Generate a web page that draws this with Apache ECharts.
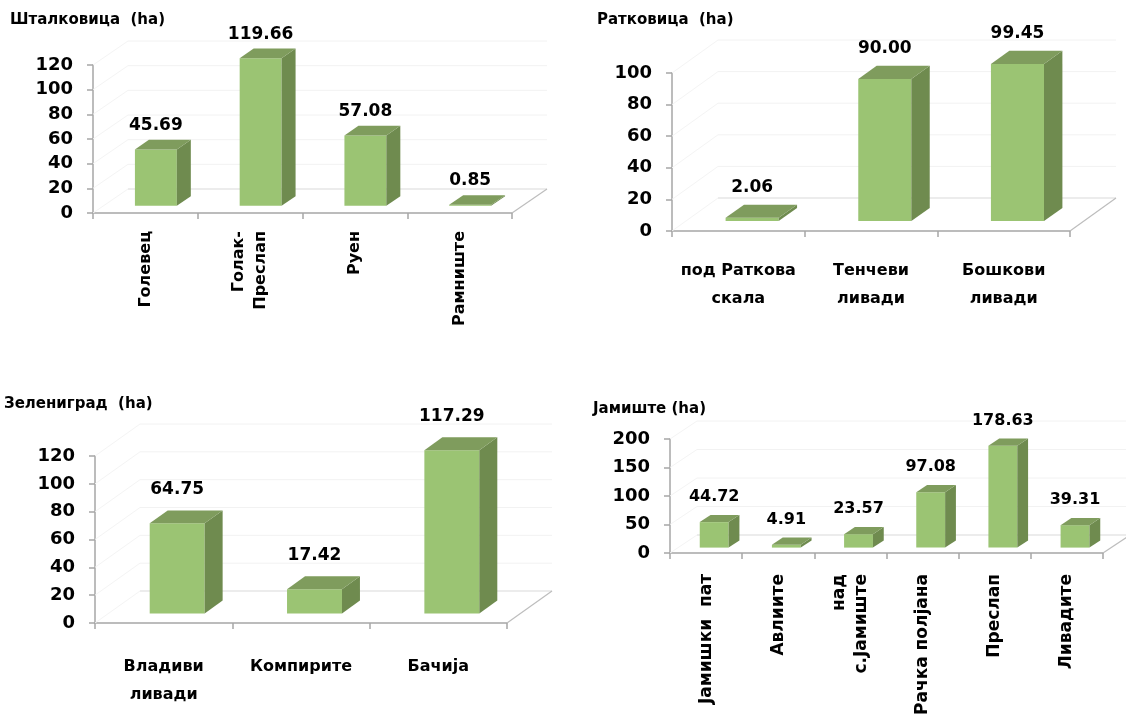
<!DOCTYPE html>
<html>
<head>
<meta charset="utf-8">
<script src="https://cdn.jsdelivr.net/npm/echarts@6/dist/echarts.min.js"></script>
<style>
  html, body { margin: 0; padding: 0; background: #fff; }
  #main { width: 1126px; height: 724px; }
</style>
</head>
<body>
<div id="main"></div>
<script>
// Шталковица
var stalkovicaCats = ['Голевец', 'Голак-\nПреслап', 'Руен', 'Рамниште'];
var stalkovicaVals = [45.69, 119.66, 57.08, 0.85];
var stalkovicaTicks = [0, 20, 40, 60, 80, 100, 120];
// Ратковица
var ratkovicaCats = ['под Раткова\nскала', 'Тенчеви\nливади', 'Бошкови\nливади'];
var ratkovicaVals = [2.06, 90.00, 99.45];
var ratkovicaTicks = [0, 20, 40, 60, 80, 100];
// Зелениград
var zelenigradCats = ['Владиви\nливади', 'Компирите', 'Бачија'];
var zelenigradVals = [64.75, 17.42, 117.29];
var zelenigradTicks = [0, 20, 40, 60, 80, 100, 120];
// Јамиште
var jamisteCats = ['Јамишки  пат', 'Авлиите', 'над\nс.Јамиште', 'Рачка полјана', 'Преслап', 'Ливадите'];
var jamisteVals = [44.72, 4.91, 23.57, 97.08, 178.63, 39.31];
var jamisteTicks = [0, 50, 100, 150, 200];

var FONT = 'DejaVu Sans';

// izgled na sekoj panel (pozicija, dlabocina na 3D, fontovi)
var panels = [
  { title: 'Шталковица  (ha)', tl: 10, tt: 13, cats: stalkovicaCats, vals: stalkovicaVals, ticks: stalkovicaTicks,
    grid: { left: 93, top: 65, width: 419, height: 148 }, depth: [35, -24], rotate: 90, catMargin: 18, catSize: 16, valSize: 17, gap: 6 },
  { title: 'Ратковица  (ha)', tl: 597, tt: 13, cats: ratkovicaCats, vals: ratkovicaVals, ticks: ratkovicaTicks,
    grid: { left: 672, top: 73, width: 398, height: 158 }, depth: [46, -33], rotate: 0, catMargin: 26, catSize: 16, valSize: 17, gap: 9 },
  { title: 'Зелениград  (ha)', tl: 4, tt: 397, cats: zelenigradCats, vals: zelenigradVals, ticks: zelenigradTicks,
    grid: { left: 95, top: 456, width: 412, height: 167 }, depth: [45, -32], rotate: 0, catMargin: 30, catSize: 16, valSize: 17, gap: 12 },
  { title: 'Јамиште (ha)', tl: 593, tt: 402, cats: jamisteCats, vals: jamisteVals, ticks: jamisteTicks,
    grid: { left: 670, top: 439, width: 433, height: 114 }, depth: [27, -18], rotate: 90, catMargin: 21, catSize: 17, valSize: 16, gap: 10 }
];

//3D kutija za sekoja vrednost
function boxRenderer(p) {
  return function (params, api) {
    var idx = api.value(0), val = api.value(1);
    var base = api.coord([idx, 0]);
    var top = api.coord([idx, val]);
    var bw = api.size([1, 0])[0] * 0.4;
    var ox = p.depth[0] * 0.3, oy = p.depth[1] * 0.3;
    var bx = p.depth[0] * 0.4, by = p.depth[1] * 0.4;
    var x0 = base[0] - bw / 2 + ox, x1 = x0 + bw;
    var yb = base[1] + oy, yt = top[1] + oy;
    return {
      type: 'group',
      children: [
        { type: 'rect', shape: { x: x0, y: yt, width: bw, height: yb - yt }, style: { fill: '#9bc473' } },
        { type: 'polygon', shape: { points: [[x1, yt], [x1 + bx, yt + by], [x1 + bx, yb + by], [x1, yb]] }, style: { fill: '#6f8b4f' } },
        { type: 'polygon', shape: { points: [[x0, yt], [x1, yt], [x1 + bx, yt + by], [x0 + bx, yt + by]] }, style: { fill: '#7f9c5d' } },
        { type: 'text', x: base[0] + ox, y: yt + by - p.gap,
          style: { text: val.toFixed(2), fill: '#000', fontSize: p.valSize, fontWeight: 'bold', fontFamily: FONT, align: 'center', verticalAlign: 'bottom' } }
      ]
    };
  };
}

// zadni yidovi i pod
function wallRenderer(p) {
  return function (params, api) {
    var cs = params.coordSys;
    var v = api.value(1);
    var y = api.coord([0, v])[1];
    var dx = p.depth[0], dy = p.depth[1];
    var kids = [
      { type: 'line', shape: { x1: cs.x + dx, y1: y + dy, x2: cs.x + cs.width + dx, y2: y + dy },
        style: { stroke: v === 0 ? '#d9d9d9' : '#f2f2f2', lineWidth: 1 } },
      { type: 'line', shape: { x1: cs.x, y1: y, x2: cs.x + dx, y2: y + dy },
        style: { stroke: '#f4f4f4', lineWidth: 1 } }
    ];
    if (v === 0) {
      kids.push({ type: 'line', shape: { x1: cs.x + cs.width, y1: y, x2: cs.x + cs.width + dx, y2: y + dy },
        style: { stroke: '#bdbdbd', lineWidth: 1.2 } });
    }
    return { type: 'group', children: kids };
  };
}

var option = { animation: false, backgroundColor: '#fff', title: [], grid: [], xAxis: [], yAxis: [], series: [] };

panels.forEach(function (p, i) {
  option.title.push({
    text: p.title, left: p.tl, top: p.tt, padding: 0,
    textStyle: { fontSize: 15, fontWeight: 'bold', fontFamily: FONT, color: '#000' }
  });
  option.grid.push({ left: p.grid.left, top: p.grid.top, width: p.grid.width, height: p.grid.height, containLabel: false, outerBoundsMode: 'none' });
  option.xAxis.push({
    type: 'category', gridIndex: i, data: p.cats,
    axisLine: { show: true, lineStyle: { color: '#a6a6a6', width: 1.5 } },
    axisTick: { show: true, length: 6, interval: 0, alignWithLabel: false, lineStyle: { color: '#a6a6a6', width: 1.5 } },
    axisLabel: { interval: 0, rotate: p.rotate, margin: p.catMargin, color: '#000', fontSize: p.catSize,
      fontWeight: 'bold', fontFamily: FONT, lineHeight: p.rotate ? 22 : 28 },
    splitLine: { show: false }
  });
  option.yAxis.push({
    type: 'value', gridIndex: i, min: p.ticks[0], max: p.ticks[p.ticks.length - 1], interval: p.ticks[1] - p.ticks[0],
    axisLine: { show: true, lineStyle: { color: '#a6a6a6', width: 1.5 } },
    axisTick: { show: true, length: 6, lineStyle: { color: '#a6a6a6', width: 1.5 } },
    axisLabel: { margin: 20, color: '#000', fontSize: 18, fontWeight: 'bold', fontFamily: FONT },
    splitLine: { show: false }
  });
  option.series.push({
    type: 'custom', xAxisIndex: i, yAxisIndex: i, z: 1, silent: true,
    renderItem: wallRenderer(p),
    data: p.ticks.map(function (t) { return [0, t]; })
  });
  option.series.push({
    type: 'custom', xAxisIndex: i, yAxisIndex: i, z: 2,
    renderItem: boxRenderer(p),
    data: p.vals.map(function (v, k) { return [k, v]; })
  });
});

var myChart = echarts.init(document.getElementById('main'));
myChart.setOption(option);
</script>
</body>
</html>
